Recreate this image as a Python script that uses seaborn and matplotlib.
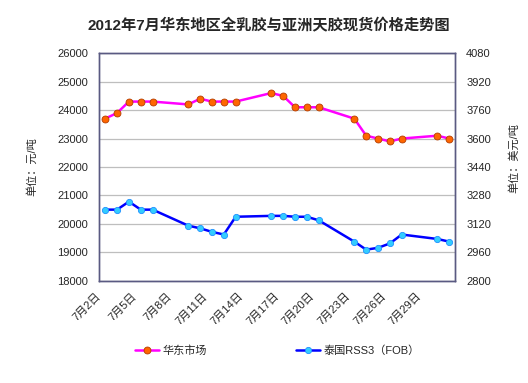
import matplotlib
matplotlib.use('Agg')
import matplotlib.pyplot as plt
import seaborn as sns
import pandas as pd

# 交易日（7月）
days = [2, 3, 4, 5, 6, 9, 10, 11, 12, 13, 16, 17, 18, 19, 20, 23, 24, 25, 26, 27, 30, 31]
# 华东市场 全乳胶 元/吨
huadong = [23700, 23900, 24300, 24300, 24300, 24200, 24400, 24300, 24300, 24300, 24600,
           24500, 24100, 24100, 24100, 23700, 23100, 23000, 22900, 23000, 23100, 23000]
# 泰国RSS3 (FOB) 美元/吨
thai = [3200, 3200, 3245, 3200, 3200, 3110, 3095, 3075, 3060, 3160, 3165,
        3165, 3160, 3160, 3140, 3020, 2975, 2985, 3010, 3060, 3035, 3020]
label_days = [2, 5, 8, 11, 14, 17, 20, 23, 26, 29]
left_ticks = list(range(18000, 26001, 1000))
right_ticks = list(range(2800, 4081, 160))

df = pd.DataFrame({'day': days, 'huadong': huadong, 'thai': thai})

sns.set_style('white')
plt.rcParams['font.family'] = ['Liberation Sans', 'Noto Sans CJK SC', 'DejaVu Sans']

fig = plt.figure(figsize=(5.28, 3.83), dpi=100)
ax = fig.add_axes([0.188, 0.267, 0.674, 0.594])
ax2 = ax.twinx()

sns.lineplot(data=df, x='day', y='huadong', ax=ax, color='#FF00FF', linewidth=1.8,
             marker='o', markersize=5, markerfacecolor='#FF6600', markeredgecolor='#B33C00',
             markeredgewidth=0.6, label='华东市场', legend=False)
sns.lineplot(data=df, x='day', y='thai', ax=ax2, color='#0000FF', linewidth=1.8,
             marker='o', markersize=4.5, markerfacecolor='#33CCFF', markeredgecolor='#1E90FF',
             markeredgewidth=0.6, label='泰国RSS3（FOB）', legend=False)

ax.set_xlim(1.5, 31.5)
ax.set_ylim(18000, 26000)
ax2.set_ylim(2800, 4080)
ax.set_yticks(left_ticks)
ax2.set_yticks(right_ticks)
ax.yaxis.grid(True, color='#BEBEBE', linewidth=0.9)
ax.set_axisbelow(True)

# 刻度线在类别之间，标签每3天
ax.set_xticks([d - 0.5 for d in label_days], [f'7月{d}日' for d in label_days])
ax.tick_params(axis='x', direction='in', length=3, color='#5A5A82', pad=10, labelsize=8)
for t in ax.get_xticklabels():
    t.set_rotation(45)
    t.set_ha('right')
    t.set_va('center')
    t.set_rotation_mode('anchor')

ax.tick_params(axis='y', length=0, labelsize=8, pad=8)
ax2.tick_params(axis='y', length=0, labelsize=8, pad=8)

for a in (ax, ax2):
    for s in a.spines.values():
        s.set_color('#5A5A82')
        s.set_linewidth(1.0)

ax.set_xlabel('')
ax.set_ylabel('单位：元/吨', fontsize=8)
ax2.set_ylabel('单位：美元/吨', fontsize=8, rotation=90)
ax.yaxis.set_label_coords(-0.175, 0.5)
ax2.yaxis.set_label_coords(1.15, 0.54)

fig.suptitle('2012年7月华东地区全乳胶与亚洲天胶现货价格走势图', x=0.51, y=0.955,
             fontsize=11, fontweight='bold', family=['Liberation Sans', 'Noto Sans CJK SC'])

h1, l1 = ax.get_legend_handles_labels()
h2, l2 = ax2.get_legend_handles_labels()
fig.legend(h1 + h2, l1 + l2, loc='center', bbox_to_anchor=(0.525, 0.085), ncol=2,
           frameon=False, fontsize=8, columnspacing=8, handlelength=2.2, handletextpad=0.3)

fig.savefig('out.png', dpi=100)
